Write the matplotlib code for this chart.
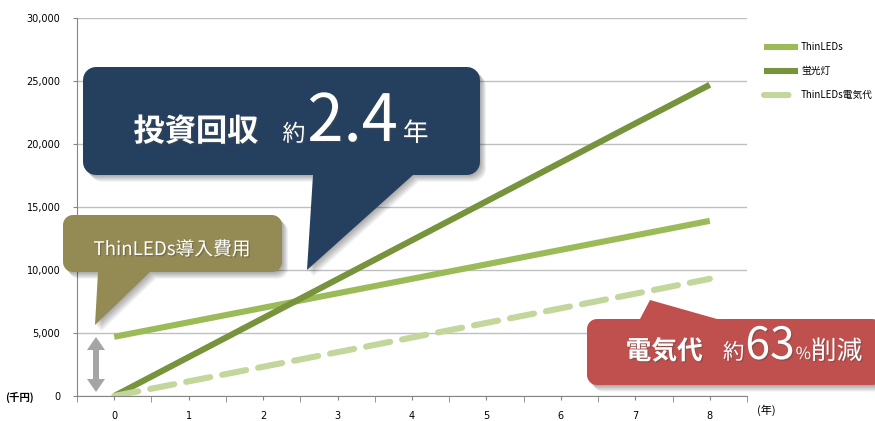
import numpy as np
import matplotlib
matplotlib.use("Agg")
import matplotlib.pyplot as plt
from matplotlib.patches import Polygon
import matplotlib.patheffects as pe

plt.rcParams["font.family"] = ["Noto Sans CJK JP", "DejaVu Sans"]

years = [0, 1, 2, 3, 4, 5, 6, 7, 8]
thinleds = [4700, 5850, 7000, 8150, 9300, 10450, 11600, 12750, 13900]
fluor = [0, 3090, 6180, 9270, 12360, 15450, 18540, 21630, 24700]
elec = [0, 1160, 2320, 3480, 4640, 5800, 6960, 8120, 9300]
labels = ["ThinLEDs", "蛍光灯", "ThinLEDs電気代"]
yticks = [0, 5000, 10000, 15000, 20000, 25000, 30000]

C_LIGHT = "#9BBB59"; C_DARK = "#77933C"; C_PALE = "#C3D69B"
NAVY = "#25405F"; OLIVE = "#948A54"; RED = "#C0504D"; GREY = "#A5A5A5"

W, H = 875, 421
fig = plt.figure(figsize=(W / 100, H / 100), dpi=100)
ax = fig.add_axes([77 / W, 1 - 396 / H, (747 - 77) / W, (396 - 18) / H])

ax.plot(years, thinleds, color=C_LIGHT, lw=4.4, solid_capstyle="butt", label=labels[0])
ax.plot(years, fluor, color=C_DARK, lw=4.4, solid_capstyle="butt", label=labels[1])
ax.plot(years, elec, color=C_PALE, lw=4.4, dashes=(4, 2), dash_capstyle="round", label=labels[2])

ax.set_xlim(-0.5, 8.5); ax.set_ylim(0, 30000)
ax.set_yticks(yticks)
ax.set_yticklabels([f"{v:,}" for v in yticks], fontsize=7, family="DejaVu Sans")
ax.set_xticks(years)
ax.set_xticklabels([str(y) for y in years], fontsize=7, family="DejaVu Sans")
ax.set_xticks(np.arange(-0.5, 9, 1.0), minor=True)
ax.tick_params(axis="x", which="major", length=3, pad=8, color="#868686")
ax.tick_params(axis="x", which="minor", length=4, color="#868686")
ax.tick_params(axis="y", length=3, pad=9, color="#868686")
ax.grid(axis="y", color="#BFBFBF", lw=1)
ax.set_axisbelow(True)
for s in ["top", "right"]:
    ax.spines[s].set_visible(False)
for s in ["left", "bottom"]:
    ax.spines[s].set_color("#868686")

fig.text(5 / W, 1 - 397 / H, "(千円)", fontsize=7.5, fontweight="bold", va="center")
fig.text(757 / W, 1 - 410 / H, "(年)", fontsize=8, va="center")

ax.legend(loc="upper left", bbox_to_anchor=(764 / W, 1 - 42 / H), bbox_transform=fig.transFigure,
          frameon=False, fontsize=7, handlelength=3.5, labelspacing=1.45, borderpad=0,
          borderaxespad=0, handletextpad=0.3)

# overlay in pixel coordinates for the callouts
ov = fig.add_axes([0, 0, 1, 1], zorder=5)
ov.set_xlim(0, W); ov.set_ylim(H, 0); ov.axis("off"); ov.patch.set_alpha(0)


def callout_verts(x0, y0, x1, y1, r, tail=None, side="bottom"):
    pts = []
    def arc(cx, cy, a0, a1):
        for t in np.linspace(a0, a1, 8):
            pts.append((cx + r * np.cos(t), cy + r * np.sin(t)))
    arc(x0 + r, y0 + r, np.pi, 1.5 * np.pi)
    if tail and side == "top":
        bl, br, tx, ty = tail
        pts += [(bl, y0), (tx, ty), (br, y0)]
    arc(x1 - r, y0 + r, 1.5 * np.pi, 2 * np.pi)
    arc(x1 - r, y1 - r, 0, 0.5 * np.pi)
    if tail and side == "bottom":
        bl, br, tx, ty = tail
        pts += [(br, y1), (tx, ty), (bl, y1)]
    arc(x0 + r, y1 - r, 0.5 * np.pi, np.pi)
    return np.array(pts)


def callout(verts, color):
    for k in range(1, 7):
        ov.add_patch(Polygon(verts + [k, k * 1.1], closed=True, fc="#000000", ec="none", alpha=0.06))
    ov.add_patch(Polygon(verts, closed=True, fc=color, ec="none"))


def rich_text(cx, y, pieces):
    fig.canvas.draw()
    rend = fig.canvas.get_renderer()
    arts = []
    total = 0
    for txt, size, weight, gap in pieces:
        t = ov.text(0, y, txt, fontsize=size, fontweight=weight, color="white", va="baseline",
                    ha="left", path_effects=[pe.withSimplePatchShadow(offset=(1, -1), alpha=0.4)])
        w = t.get_window_extent(rend).width
        arts.append((t, w, gap)); total += w + gap
    x = cx - total / 2
    for t, w, gap in arts:
        x += gap
        t.set_x(x); x += w


callout(callout_verts(83, 67, 480, 175, 13, (313, 413, 307, 270), "bottom"), NAVY)
callout(callout_verts(63, 215, 282, 272, 10, (98, 150, 95, 325), "bottom"), OLIVE)
callout(callout_verts(587, 319, 882, 385, 10, (640, 717, 650, 300), "top"), RED)

arrow = [(96, 337), (105, 350), (99, 350), (99, 379), (105, 379), (96, 392),
         (87, 379), (93, 379), (93, 350), (87, 350)]
ov.add_patch(Polygon(arrow, closed=True, fc=GREY, ec="none"))

rich_text(281, 141, [("投資回収", 22.5, "bold", 0), ("約", 16.5, "normal", 24),
                     ("2.4", 47, "normal", 2), ("年", 18.5, "normal", 5)])
rich_text(172, 255, [("ThinLEDs導入費用", 13.5, "normal", 0)])
rich_text(744, 359, [("電気代", 18.5, "bold", 0), ("約", 15.5, "normal", 20),
                     ("63", 32, "normal", 1), ("%", 12, "normal", 1), ("削減", 18.5, "normal", 0)])

fig.savefig("out.png", dpi=100)
